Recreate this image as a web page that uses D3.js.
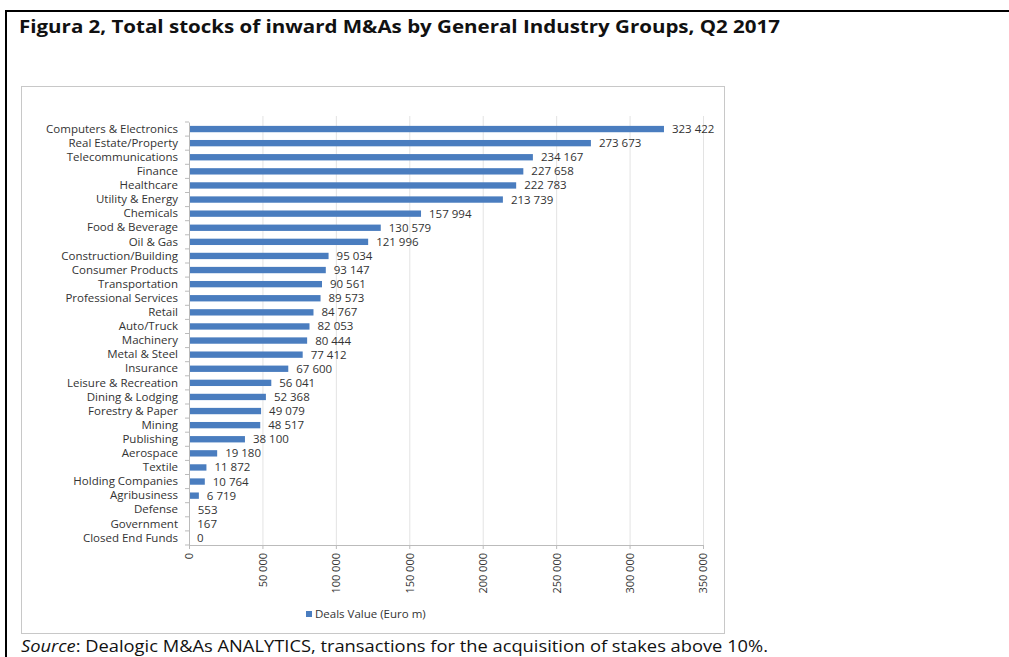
<!DOCTYPE html>
<html>
<head>
<meta charset="utf-8">
<script src="https://cdn.jsdelivr.net/npm/d3@7"></script>
<style>
  body { margin: 0; background: #fff; }
  svg { display: block; }
</style>
</head>
<body>
<div id="chart"></div>
<script>
const industries = [
  "Computers & Electronics", "Real Estate/Property", "Telecommunications", "Finance",
  "Healthcare", "Utility & Energy", "Chemicals", "Food & Beverage", "Oil & Gas",
  "Construction/Building", "Consumer Products", "Transportation", "Professional Services",
  "Retail", "Auto/Truck", "Machinery", "Metal & Steel", "Insurance", "Leisure & Recreation",
  "Dining & Lodging", "Forestry & Paper", "Mining", "Publishing", "Aerospace", "Textile",
  "Holding Companies", "Agribusiness", "Defense", "Government", "Closed End Funds"
];
const dealsValue = [
  323422, 273673, 234167, 227658, 222783, 213739, 157994, 130579, 121996,
  95034, 93147, 90561, 89573, 84767, 82053, 80444, 77412, 67600, 56041,
  52368, 49079, 48517, 38100, 19180, 11872, 10764, 6719, 553, 167, 0
];
const xTicks = [0, 50000, 100000, 150000, 200000, 250000, 300000, 350000];

const W = 1009, H = 657;
const svg = d3.select("#chart").append("svg").attr("width", W).attr("height", H);

// page frame
svg.append("line").attr("x1", 6).attr("x2", W).attr("y1", 11).attr("y2", 11)
  .attr("stroke", "#000").attr("stroke-width", 2);
svg.append("line").attr("x1", 6).attr("x2", 6).attr("y1", 10).attr("y2", H)
  .attr("stroke", "#000").attr("stroke-width", 2);

svg.append("text")
  .attr("x", 19).attr("y", 33)
  .attr("font-family", "Open Sans").attr("font-weight", "bold").attr("font-size", 18)
  .attr("textLength", 761).attr("lengthAdjust", "spacingAndGlyphs")
  .attr("fill", "#111")
  .text("Figura 2, Total stocks of inward M&As by General Industry Groups, Q2 2017");

// chart box
svg.append("rect").attr("x", 21.5).attr("y", 86.5).attr("width", 703).attr("height", 547)
  .attr("fill", "none").attr("stroke", "#c8c8c8");

const plot = { left: 189, right: 703, top: 122, bottom: 545 };

const x = d3.scaleLinear().domain([0, 350000]).range([plot.left, plot.right]);
const y = d3.scaleBand().domain(industries).range([plot.top, plot.bottom]).paddingInner(0.55).paddingOuter(0.275);

const fmt = d3.formatLocale({ decimal: ",", thousands: " ", grouping: [3], currency: ["", ""] }).format(",");

// gridlines
svg.append("g").selectAll("line").data(xTicks.slice(1)).enter().append("line")
  .attr("x1", d => x(d) + 0.5).attr("x2", d => x(d) + 0.5)
  .attr("y1", plot.top - 6).attr("y2", plot.bottom)
  .attr("stroke", "#e3e3e3");

// bars
svg.append("g").selectAll("rect").data(industries).enter().append("rect")
  .attr("x", x(0))
  .attr("y", d => y(d))
  .attr("width", (d, i) => Math.max(x(dealsValue[i]) - x(0), dealsValue[i] > 0 ? 1 : 0))
  .attr("height", y.bandwidth())
  .attr("fill", "#4a7dbf");

// value labels
svg.append("g").selectAll("text").data(industries).enter().append("text")
  .attr("x", (d, i) => x(dealsValue[i]) + 8)
  .attr("y", d => y(d) + y.bandwidth() / 2)
  .attr("dy", "0.35em")
  .attr("font-family", "Open Sans").attr("font-size", 11.5)
  .attr("fill", "#333")
  .text((d, i) => fmt(dealsValue[i]));

// y axis
const yAxis = svg.append("g").attr("transform", "translate(" + plot.left + ",0)")
  .call(d3.axisLeft(y).tickSize(0).tickPadding(11));
yAxis.select(".domain").attr("stroke", "#bbb");
yAxis.selectAll("text").attr("font-family", "Open Sans").attr("font-size", 11.5).attr("fill", "#333");
yAxis.append("g").selectAll("line").data(d3.range(industries.length + 1)).enter().append("line")
  .attr("x1", -4).attr("x2", 0)
  .attr("y1", i => plot.top + i * y.step()).attr("y2", i => plot.top + i * y.step())
  .attr("stroke", "#bbb");

// x axis
const xAxis = svg.append("g").attr("transform", "translate(0," + plot.bottom + ")")
  .call(d3.axisBottom(x).tickValues(xTicks).tickSize(4).tickFormat(fmt));
xAxis.selectAll(".domain, line").attr("stroke", "#bbb");
xAxis.selectAll("text")
  .attr("font-family", "Open Sans").attr("font-size", 11).attr("fill", "#333")
  .attr("text-anchor", "end")
  .attr("transform", "rotate(-90)")
  .attr("x", -8).attr("y", 0).attr("dy", "0.35em");

// legend
const legend = svg.append("g").attr("transform", "translate(306,614)");
legend.append("rect").attr("x", 0).attr("y", -3).attr("width", 6).attr("height", 6).attr("fill", "#4a7dbf");
legend.append("text").attr("x", 9).attr("y", 0).attr("dy", "0.35em")
  .attr("font-family", "Open Sans").attr("font-size", 11.5).attr("fill", "#333")
  .text("Deals Value (Euro m)");

// source
const src = svg.append("text").attr("x", 21).attr("y", 652)
  .attr("font-family", "Open Sans").attr("font-size", 17).attr("fill", "#111")
  .attr("textLength", 747).attr("lengthAdjust", "spacingAndGlyphs");
src.append("tspan").attr("font-style", "italic").text("Source");
src.append("tspan").text(": Dealogic M&As ANALYTICS, transactions for the acquisition of stakes above 10%.");
</script>
</body>
</html>
